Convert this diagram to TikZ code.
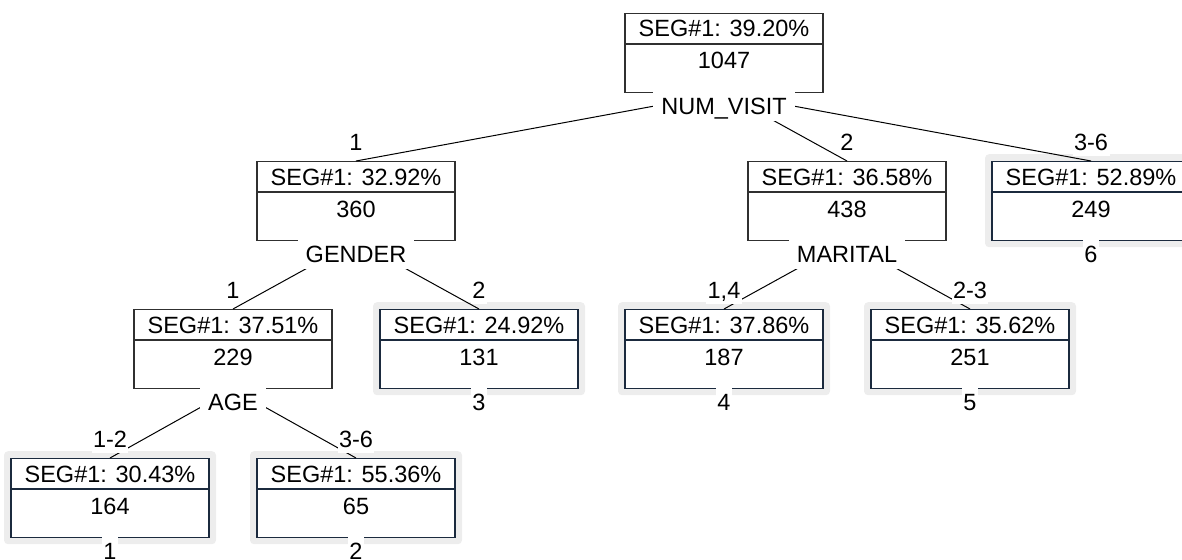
\documentclass[tikz,border=0pt]{standalone}
\usepackage{fontspec}
\setmainfont{Liberation Sans}
\usepackage{tikz}
\definecolor{boxline}{HTML}{303030}
\definecolor{leafline}{HTML}{1B2A3E}
\definecolor{shadegray}{HTML}{EDEDED}
\tikzset{
  segbox/.style={draw=boxline, line width=1.2pt, fill=white, minimum width=198pt, minimum height=79pt, inner sep=0pt, anchor=north},
  leafbox/.style={segbox, draw=leafline},
  shadebox/.style={fill=shadegray, rounded corners=4pt, minimum width=212pt, minimum height=93pt, inner sep=0pt, anchor=north},
  splitlbl/.style={fill=white, anchor=north, text height=22pt, text depth=6pt, inner xsep=8pt, inner ysep=1pt, yshift=2pt},
  leaflbl/.style={splitlbl, inner xsep=1.5pt},
  branchlbl/.style={fill=white, anchor=south, text height=17pt, text depth=4pt, inner sep=1.5pt, yshift=5pt},
  branch/.style={line width=1pt}
}

\begin{document}
\begin{tikzpicture}[x=1pt, y=-1pt, font=\fontsize{23.5pt}{28pt}\selectfont]
  \useasboundingbox (0,0) rectangle (1182,559);
  \clip (0,0) rectangle (1182,559);
  % split nodes
  \foreach \nm/\x/\y/\pct/\cnt in {root/724/13/39.20/1047, gen/356/161/32.92/360, mar/847/161/36.58/438, age/233/309/37.51/229}{
    \node[segbox] (\nm) at (\x,\y) {};
    \draw[boxline, line width=1.2pt] ([yshift=-31pt]\nm.north west) -- ([yshift=-31pt]\nm.north east);
    \node[anchor=base] (\nm-pct) at ([yshift=-24pt]\nm.north) {SEG\#1: \pct\%};
    \node[anchor=base] (\nm-cnt) at ([yshift=-56pt]\nm.north) {\cnt};
  }
  % leaves
  \foreach \nm/\x/\y/\pct/\cnt in {leaf1/110/458/30.43/164, leaf2/356/458/55.36/65, leaf3/479/309/24.92/131, leaf4/724/309/37.86/187, leaf5/970/309/35.62/251, leaf6/1091/161/52.89/249}{
    \node[shadebox] (\nm-sh) at (\x,{\y-7}) {};
    \node[leafbox] (\nm) at (\x,\y) {};
    \draw[leafline, line width=1.2pt] ([yshift=-31pt]\nm.north west) -- ([yshift=-31pt]\nm.north east);
    \node[anchor=base] (\nm-pct) at ([yshift=-24pt]\nm.north) {SEG\#1: \pct\%};
    \node[anchor=base] (\nm-cnt) at ([yshift=-56pt]\nm.north) {\cnt};
  }
  \foreach \a/\b in {root/gen, root/mar, root/leaf6, gen/age, gen/leaf3, mar/leaf4, mar/leaf5, age/leaf1, age/leaf2}
    \draw[branch] (\a.south) -- (\b.north);
  \foreach \a/\lbl in {root/NUM\_VISIT, gen/GENDER, mar/MARITAL, age/AGE}
    \node[splitlbl] (\a-split) at (\a.south) {\lbl};
  \foreach \b/\lbl in {gen/1, mar/2, leaf6/3-6, age/1, leaf3/2, leaf4/{1,4}, leaf5/2-3, leaf1/1-2, leaf2/3-6}
    \node[branchlbl] (\b-val) at (\b.north) {\lbl};
  \foreach \b/\lbl in {leaf1/1, leaf2/2, leaf3/3, leaf4/4, leaf5/5, leaf6/6}
    \node[leaflbl] (\b-num) at (\b.south) {\lbl};
\end{tikzpicture}
\end{document}
